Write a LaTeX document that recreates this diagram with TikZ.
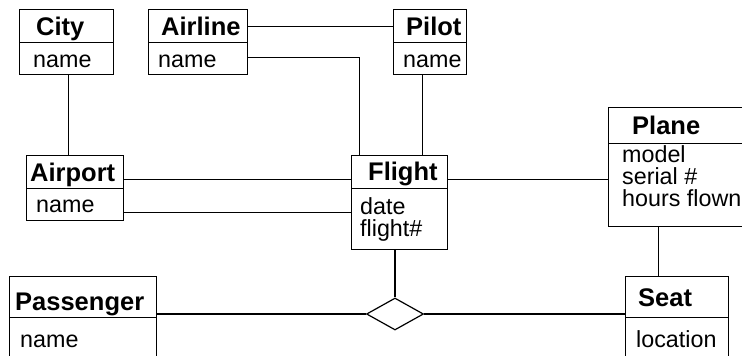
\documentclass[tikz,border=0pt]{standalone}
\usepackage{fontspec}
\setmainfont{Liberation Sans}
\usetikzlibrary{shapes.geometric}
\tikzset{
  box/.style={draw, line width=1.2pt, rectangle, inner sep=0pt, anchor=north west},
  conn/.style={line width=1.2pt},
  title/.style={anchor=base west, inner sep=0pt, font=\fontsize{25.5}{26}\selectfont\bfseries},
  attr/.style={anchor=base west, inner sep=0pt, font=\fontsize{23.3}{22}\selectfont},
  rel/.style={draw, line width=1.2pt, diamond, inner sep=0pt, minimum width=57pt, minimum height=32pt, fill=white}
}
\begin{document}
\begin{tikzpicture}[x=1pt,y=-1pt]
\useasboundingbox (0,0) rectangle (742,356);
\clip (0,0) rectangle (742,356);
% City
\node[box, minimum width=94pt, minimum height=33pt] (city) at (19,9) {};
\node[box, minimum width=94pt, minimum height=32pt] (cityattr) at (19,42) {};
\node[title] (citylbl) at (36,35.5) {City};
\node[attr] (citya) at (33,67.5) {name};
% Airline
\node[box, minimum width=99pt, minimum height=33pt] (airline) at (148,9) {};
\node[box, minimum width=99pt, minimum height=32pt] (airlineattr) at (148,42) {};
\node[title] (airlinelbl) at (161,35.5) {Airline};
\node[attr] (airlinea) at (158,67.5) {name};
% Pilot
\node[box, minimum width=73pt, minimum height=33pt] (pilot) at (393,9) {};
\node[box, minimum width=73pt, minimum height=32pt] (pilotattr) at (393,42) {};
\node[title] (pilotlbl) at (406,35.5) {Pilot};
\node[attr] (pilota) at (403,67.5) {name};
% Airport
\node[box, minimum width=97pt, minimum height=33pt] (airport) at (26,155) {};
\node[box, minimum width=97pt, minimum height=32pt] (airportattr) at (26,188) {};
\node[title] (airportlbl) at (30,181.5) {Airport};
\node[attr] (airporta) at (36,212.5) {name};
% Flight
\node[box, minimum width=96pt, minimum height=33pt] (flight) at (351,155) {};
\node[box, minimum width=96pt, minimum height=61pt] (flightattr) at (351,188) {};
\node[title] (flightlbl) at (368,180.5) {Flight};
\node[attr] (flighta) at (360,214) {date};
\node[attr] (flightb) at (360,236) {flight\#};
% Plane
\node[box, minimum width=137pt, minimum height=36pt] (plane) at (608,107) {};
\node[box, minimum width=137pt, minimum height=83pt] (planeattr) at (608,143) {};
\node[title] (planelbl) at (632,134) {Plane};
\node[attr] (planea) at (622,162) {model};
\node[attr] (planeb) at (622,184) {serial \#};
\node[attr] (planec) at (622,206) {hours flown};
% Passenger
\node[box, minimum width=147pt, minimum height=41pt] (passenger) at (9,276) {};
\node[box, minimum width=147pt, minimum height=50pt] (passengerattr) at (9,317) {};
\node[title] (passengerlbl) at (15,310) {Passenger};
\node[attr] (passengera) at (20,347) {name};
% Seat
\node[box, minimum width=103pt, minimum height=41pt] (seat) at (625,276) {};
\node[box, minimum width=103pt, minimum height=50pt] (seatattr) at (625,317) {};
\node[title] (seatlbl) at (638,306) {Seat};
\node[attr] (seata) at (636,347) {location};
% Relationship
\node[rel] (has) at (395,314) {};
% Connectors
\draw[conn] ([xshift=2pt]cityattr.south) -- ([xshift=2pt]cityattr.south |- airport.north);
\draw[conn] (airline.east) -- (pilot.west);
\draw[conn] ([yshift=1pt]airlineattr.east) -| ([xshift=-40pt]flight.north);
\draw[conn] ([xshift=-7.5pt]pilotattr.south) -- ([xshift=-7.5pt]pilotattr.south |- flight.north);
\draw[conn] ([yshift=-7.5pt]airport.east) -- ([yshift=-7.5pt]airport.east -| flight.west);
\draw[conn] ([yshift=-8pt]airportattr.east) -- ([yshift=-8pt]airportattr.east -| flightattr.west);
\draw[conn] ([yshift=-7.5pt]flight.east) -- ([yshift=-7.5pt]flight.east -| planeattr.west);
\draw[conn] ([xshift=-18.5pt]planeattr.south) -- ([xshift=-18.5pt]planeattr.south |- seat.north);
\draw[conn] (has.north |- flightattr.south) -- (has.north);
\draw[conn] (has.west) -- (has.west -| passenger.east);
\draw[conn] (has.east) -- (has.east -| seat.west);
\end{tikzpicture}
\end{document}
